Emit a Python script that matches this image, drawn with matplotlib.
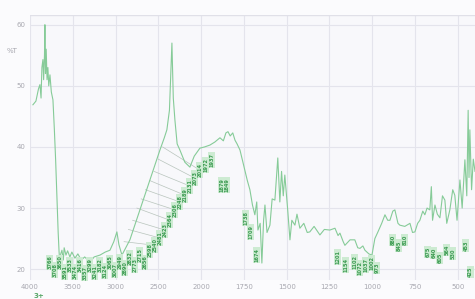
import matplotlib
matplotlib.use("Agg")
import matplotlib.pyplot as plt
import matplotlib.transforms as mtransforms
import numpy as np

# spectrum (wavenumber cm-1, %T)
wn = [3965, 3930, 3900, 3883, 3870, 3860, 3848, 3840, 3830, 3825, 3818, 3810, 3800, 3790,
      3780, 3766, 3750, 3731, 3715, 3700, 3685, 3670, 3660, 3650, 3640, 3626, 3610, 3600,
      3579, 3560, 3533, 3510, 3474, 3440, 3400, 3360, 3299, 3250, 3182, 3120, 3065, 3020,
      2984, 2960, 2925, 2880, 2832, 2780, 2715, 2660, 2598, 2540, 2481, 2430, 2400, 2370,
      2341, 2325, 2306, 2280, 2248, 2190, 2131, 2080, 2014, 1980, 1949, 1920, 1890, 1870,
      1855, 1843, 1830, 1815, 1802, 1790, 1773, 1760, 1744, 1730, 1715, 1700, 1686, 1675,
      1668, 1655, 1645, 1635, 1627, 1615, 1598, 1585, 1569, 1560, 1552, 1540, 1530, 1520,
      1511, 1495, 1481, 1470, 1452, 1440, 1423, 1400, 1380, 1365, 1340, 1306, 1280, 1248,
      1218, 1200, 1189, 1170, 1160, 1130, 1102, 1085, 1072, 1055, 1043, 1020, 1002, 985,
      967, 945, 926, 910, 897, 880, 868, 850, 839, 810, 780, 765, 751, 735, 722, 705,
      693, 680, 664, 655, 648, 634, 620, 605, 590, 576, 565, 547, 530, 518, 505, 488,
      475, 459, 448, 440, 435, 430, 420, 410, 400]
trans = [46.9, 47.5, 49.5, 50.2, 48.0, 53.0, 54.3, 51.0, 55.0, 60.0, 52.0, 56.0, 51.0, 53.0,
         50.0, 51.8, 49.0, 47.7, 43.0, 38.0, 32.0, 26.0, 23.0, 20.7, 22.5, 23.1, 21.5, 23.5,
         22.3, 23.0, 22.0, 22.8, 21.8, 22.5, 21.5, 22.0, 21.1, 22.0, 22.3, 22.8, 23.1, 24.5,
         26.1, 24.0, 22.3, 23.5, 24.8, 27.0, 29.7, 32.0, 34.6, 37.0, 39.5, 41.5, 42.8, 46.0,
         57.0, 48.0, 44.4, 40.5, 39.5, 37.5, 36.7, 38.5, 39.8, 40.0, 40.3, 40.8, 41.5, 41.0,
         42.3, 42.5, 41.8, 42.3, 41.1, 40.5, 39.5, 38.0, 36.2, 34.5, 33.0, 30.5, 28.9, 31.0,
         26.4, 27.5, 21.0, 28.0, 30.5, 26.0, 27.2, 31.5, 31.3, 35.0, 38.2, 31.0, 36.0, 32.0,
         35.4, 30.0, 24.8, 28.0, 27.2, 29.0, 26.7, 27.5, 26.0, 26.1, 27.0, 25.6, 26.5, 26.4,
         26.7, 25.5, 25.9, 24.5, 23.9, 24.8, 24.8, 23.5, 23.4, 23.8, 23.1, 22.5, 22.3, 25.0,
         26.1, 27.5, 28.9, 28.0, 28.0, 29.5, 29.7, 27.5, 27.2, 27.0, 27.5, 26.0, 26.1, 27.5,
         28.0, 29.5, 28.9, 30.0, 29.7, 33.5, 28.0, 30.5, 29.0, 28.4, 32.0, 31.3, 27.5, 29.7,
         33.0, 32.1, 28.0, 34.6, 30.0, 37.9, 32.0, 46.0, 35.0, 42.8, 33.0, 38.0, 36.0]

# peak labels: label position (wavenumber, %T)
lab_wn = [3766, 3708, 3650, 3591, 3533, 3474, 3416, 3357, 3299, 3241, 3182, 3124, 3065,
          3007, 2949, 2890, 2832, 2773, 2715, 2656, 2598, 2540, 2481, 2423, 2364, 2306,
          2248, 2189, 2131, 2073, 2014, 1972, 1937, 1879, 1849, 1738, 1709, 1674,
          1201, 1154, 1102, 1072, 1037, 1002, 973, 880, 845, 810, 675, 640, 605, 564,
          530, 453, 425]
lab_t = [21.1, 19.8, 21.1, 19.5, 20.7, 19.5, 20.7, 19.3, 20.7, 19.5, 20.7, 19.7, 21.1,
         19.8, 21.1, 20.2, 21.8, 20.7, 22.3, 21.1, 23.1, 23.9, 25.1, 26.4, 28.0, 29.7,
         31.0, 32.1, 33.6, 34.9, 36.2, 37.0, 37.9, 33.8, 33.8, 28.4, 26.1, 22.3,
         22.0, 20.7, 21.1, 20.2, 20.7, 21.0, 20.2, 24.8, 23.9, 24.8, 22.8, 22.6, 21.8, 23.1,
         22.6, 23.9, 19.5]

# leader lines from the left flank of the 2340 band to the labels
lead_from_wn = [2900, 2850, 2800, 2750, 2700, 2650, 2600, 2550, 2500, 2450]
lead_from_t = [24.5, 26.5, 28.0, 30.0, 31.5, 33.0, 34.5, 36.0, 38.0, 40.0]
lead_to_wn = [2540, 2481, 2423, 2364, 2306, 2248, 2189, 2131, 2073, 2014]
lead_to_t = [23.9, 25.1, 26.4, 28.0, 29.7, 31.0, 32.1, 33.6, 34.9, 36.2]

x_ticks = [4000, 3500, 3000, 2500, 2000, 1750, 1500, 1250, 1000, 750, 500]
y_ticks = [20, 30, 40, 50, 60]


def fwd(w):
    return np.interp(w, [0, 2000, 4000, 8000], [-8, 0, 4, 12])


def inv(p):
    return np.interp(p, [-8, 0, 4, 12], [0, 2000, 4000, 8000])


fig = plt.figure(figsize=(4.75, 2.99), dpi=100, facecolor="#fbfbfd")
ax = fig.add_axes([0.063, 0.063, 0.937, 0.887])
ax.set_facecolor("#f8f8fb")
ax.set_xscale("function", functions=(fwd, inv))
ax.set_xlim(4000, 400)
ax.set_ylim(18.2, 61.6)

ax.set_xticks(x_ticks)
ax.set_xticklabels([str(v) for v in x_ticks])
ax.set_yticks(y_ticks)
ax.tick_params(length=0, labelsize=5, colors="#a8a8b0", pad=3)
ax.grid(True, color="#e4e4ec", linewidth=0.8)
for s in ax.spines.values():
    s.set_visible(False)
ax.axhline(61.6, color="#e0e0e8", lw=1.0)

for x0, y0, x1, y1 in zip(lead_from_wn, lead_from_t, lead_to_wn, lead_to_t):
    ax.plot([x0, x1], [y0, y1], color="#b8c4bc", lw=0.5)

ax.plot(wn, trans, color="#86cb98", lw=0.8)

for w, t in zip(lab_wn, lab_t):
    ax.text(w, t, str(w), rotation=90, ha="center", va="center", fontsize=3.6,
            color="#3a9a50", fontweight="bold",
            bbox=dict(boxstyle="square,pad=0.2", facecolor="#cdebd2", edgecolor="none"))

ax.text(-0.04, 0.865, "%T", transform=ax.transAxes, fontsize=5, color="#a8a8b0",
        ha="center", va="center")
tr = mtransforms.blended_transform_factory(ax.transData, ax.transAxes)
ax.text(3900, -0.06, "3+", transform=tr, fontsize=5, color="#5aa86a",
        fontweight="bold", ha="center", va="center")

fig.savefig("out.png", dpi=100, facecolor=fig.get_facecolor())
